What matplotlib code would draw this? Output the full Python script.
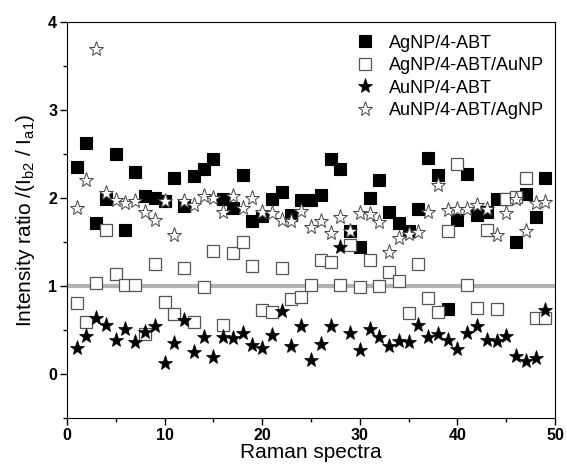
import numpy as np
import matplotlib.pyplot as plt

plt.rcParams['font.family'] = ['Liberation Sans', 'DejaVu Sans']
plt.rcParams['mathtext.fontset'] = 'custom'
plt.rcParams['mathtext.rm'] = 'Liberation Sans'
plt.rcParams['mathtext.it'] = 'Liberation Sans'

spectra = np.arange(1, 50)

# AgNP/4-ABT (filled squares)
ag_abt = [2.35, 2.63, 1.72, 1.99, 2.50, 1.64, 2.29, 2.02, 2.00, 1.97,
          2.23, 1.91, 2.25, 2.33, 2.44, 1.99, 1.89, 2.26, 1.74, 1.80,
          1.99, 2.07, 1.81, 1.98, 1.98, 2.03, 2.44, 2.33, 1.62, 1.44,
          2.00, 2.20, 1.84, 1.72, 1.62, 1.87, 2.46, 2.26, 0.74, 1.75,
          2.27, 1.81, 1.84, 1.99, 1.99, 1.50, 2.05, 1.78, 2.23]

# AgNP/4-ABT/AuNP (open squares)
ag_abt_au = [0.81, 0.59, 1.03, 1.64, 1.14, 1.01, 1.01, 0.45, 1.25, 0.82,
             0.68, 1.20, 0.59, 0.99, 1.40, 0.56, 1.37, 1.50, 1.23, 0.73,
             0.70, 1.20, 0.85, 0.87, 1.01, 1.30, 1.27, 1.01, 1.46, 0.99,
             1.30, 1.00, 1.16, 1.06, 0.69, 1.25, 0.86, 0.70, 1.63, 2.39,
             1.01, 0.75, 1.64, 0.74, 1.99, 2.01, 2.23, 0.64, 0.64]

# AuNP/4-ABT (filled stars)
au_abt = [0.29, 0.43, 0.63, 0.56, 0.38, 0.51, 0.36, 0.48, 0.54, 0.12,
          0.35, 0.61, 0.25, 0.42, 0.19, 0.42, 0.41, 0.47, 0.33, 0.29,
          0.44, 0.72, 0.32, 0.54, 0.16, 0.34, 0.55, 1.44, 0.46, 0.27,
          0.51, 0.42, 0.32, 0.37, 0.36, 0.56, 0.42, 0.45, 0.39, 0.28,
          0.47, 0.54, 0.39, 0.37, 0.43, 0.20, 0.15, 0.18, 0.73]

# AuNP/4-ABT/AgNP (open stars)
au_abt_ag = [1.89, 2.20, 3.69, 2.06, 1.98, 1.94, 1.96, 1.84, 1.75, 1.97,
             1.58, 1.96, 1.92, 2.02, 2.00, 1.84, 2.02, 1.89, 2.00, 1.84,
             1.83, 1.75, 1.74, 1.85, 1.67, 1.74, 1.60, 1.78, 1.62, 1.83,
             1.82, 1.73, 1.39, 1.54, 1.59, 1.61, 1.84, 2.15, 1.86, 1.87,
             1.88, 1.92, 1.88, 1.58, 1.83, 1.99, 1.62, 1.94, 1.95]

fig = plt.figure(figsize=(5.67, 4.69), dpi=100)
ax = fig.add_axes([0.118, 0.109, 0.861, 0.844])

ax.axhline(1.0, color='#b3b3b3', lw=3, zorder=1)

ax.plot(spectra, ag_abt, 's', ms=8, mfc='black', mec='black', mew=0.8,
        label='AgNP/4-ABT', zorder=2)
ax.plot(spectra, ag_abt_au, 's', ms=8, mfc='white', mec='#555555', mew=0.9,
        label='AgNP/4-ABT/AuNP', zorder=3)
ax.plot(spectra, au_abt, '*', ms=11, mfc='black', mec='black', mew=0.5,
        label='AuNP/4-ABT', zorder=4)
ax.plot(spectra, au_abt_ag, '*', ms=11, mfc='white', mec='#444444', mew=0.7,
        label='AuNP/4-ABT/AgNP', zorder=5)

ax.set_xlim(0, 50)
ax.set_ylim(-0.5, 4)
ax.set_xticks(np.arange(0, 51, 10))
ax.set_xticks(np.arange(5, 50, 10), minor=True)
ax.set_yticks(np.arange(0, 5, 1))
ax.set_yticks(np.arange(-0.5, 4, 1), minor=True)
ax.tick_params(which='major', direction='out', length=5, width=1,
               labelsize=11.5, pad=2)
ax.tick_params(which='minor', direction='out', length=3, width=1)
for lab in ax.get_xticklabels() + ax.get_yticklabels():
    lab.set_fontweight('bold')

ax.set_xlabel('Raman spectra', fontsize=15, labelpad=0)
ax.set_ylabel('Intensity ratio /(I$_{\\rm b2}$ / I$_{\\rm a1}$)', fontsize=15,
              labelpad=8)

ax.legend(loc='upper right', frameon=False, fontsize=13, handletextpad=0.5,
          labelspacing=0.3, borderaxespad=0.3, handlelength=1.6,
          bbox_to_anchor=(1.003, 1.0))

fig.savefig('out.png', dpi=100)
